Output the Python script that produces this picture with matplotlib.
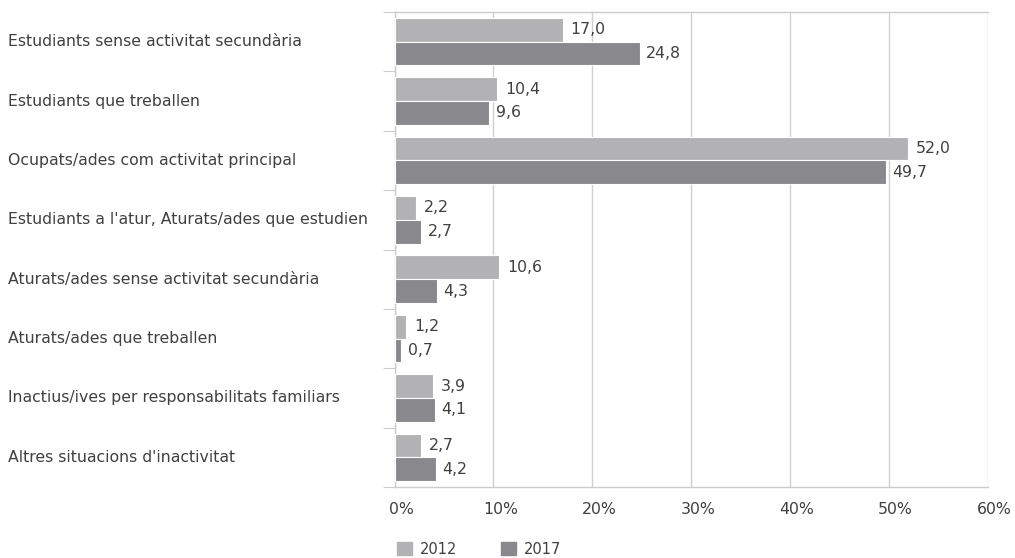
import numpy as np
import matplotlib.pyplot as plt
import matplotlib.transforms as mtransforms
from matplotlib.patches import Patch

categories = [
    "Estudiants sense activitat secundària",
    "Estudiants que treballen",
    "Ocupats/ades com activitat principal",
    "Estudiants a l'atur, Aturats/ades que estudien",
    "Aturats/ades sense activitat secundària",
    "Aturats/ades que treballen",
    "Inactius/ives per responsabilitats familiars",
    "Altres situacions d'inactivitat",
]
vals_2012 = [17.0, 10.4, 52.0, 2.2, 10.6, 1.2, 3.9, 2.7]
vals_2017 = [24.8, 9.6, 49.7, 2.7, 4.3, 0.7, 4.1, 4.2]
series_names = ["2012", "2017"]
xticks = [0, 10, 20, 30, 40, 50, 60]

c_light = "#b2b2b5"
c_dark = "#89898d"
txt = "#404040"
fs = 11.3
plt.rcParams['font.family'] = ['DejaVu Sans']

fig = plt.figure(figsize=(10.15, 5.58), dpi=100)
ax = fig.add_axes([394.5 / 1015, 1 - 487 / 558, (987.5 - 394.5) / 1015, (487 - 12) / 558])

y = np.arange(len(categories))
h = 0.4
ax.barh(y - h / 2, vals_2012, height=h, color=c_light, edgecolor='white', linewidth=0.8, zorder=3)
ax.barh(y + h / 2, vals_2017, height=h, color=c_dark, edgecolor='white', linewidth=0.8, zorder=3)

def fmt(v):
    return f"{v:.1f}".replace('.', ',')

for yi, a, b in zip(y, vals_2012, vals_2017):
    ax.annotate(fmt(a), (a, yi - h / 2), xytext=(5.5, 0), textcoords='offset points',
                va='center', ha='left', fontsize=fs, color=txt)
    ax.annotate(fmt(b), (b, yi + h / 2), xytext=(4.5, 0), textcoords='offset points',
                va='center', ha='left', fontsize=fs, color=txt)

ax.set_xlim(0, 60)
ax.set_ylim(len(categories) - 0.5, -0.5)
ax.set_xticks(xticks)
ax.set_xticklabels([f"{t}%" for t in xticks], fontsize=fs, color=txt)
ax.tick_params(axis='x', length=0, pad=11)
shift = mtransforms.ScaledTranslation(7 / 100, 0, fig.dpi_scale_trans)
for lab in ax.get_xticklabels():
    lab.set_transform(lab.get_transform() + shift)

ax.set_yticks(np.arange(len(categories) + 1) - 0.5)
ax.set_yticklabels([])
ax.tick_params(axis='y', length=9, color='#cccccc', direction='out')

for yi, cat in zip(y, categories):
    ax.text(8 / 1015, ax.transData.transform((0, yi))[1] / 558, cat,
            transform=fig.transFigure, ha='left', va='center', fontsize=fs, color=txt)

ax.grid(axis='x', color='#d0d0d0', linewidth=1, zorder=0)
ax.spines['right'].set_visible(False)
for s in ['left', 'top', 'bottom']:
    ax.spines[s].set_color('#cccccc')
    ax.spines[s].set_linewidth(1)

handles = [Patch(color=c_light), Patch(color=c_dark)]
fig.legend(handles, series_names, loc='center left', bbox_to_anchor=(384 / 1015, 1 - 549 / 558),
           ncol=2, frameon=False, fontsize=fs - 0.8, handlelength=1.05, handleheight=1.05,
           columnspacing=3.0, handletextpad=0.5, labelcolor=txt)

fig.savefig('out.png', dpi=100)
